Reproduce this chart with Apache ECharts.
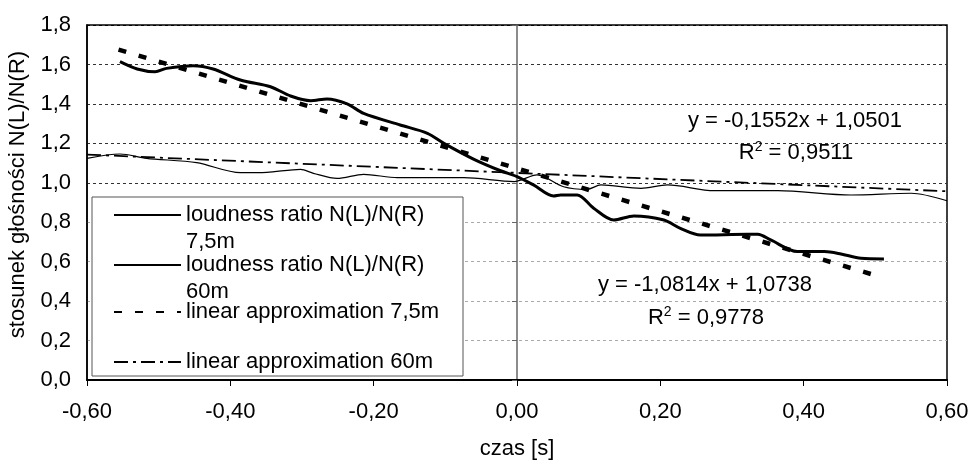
<!DOCTYPE html>
<html>
<head>
<meta charset="utf-8">
<script src="https://cdn.jsdelivr.net/npm/echarts@6/dist/echarts.min.js"></script>
<style>
  html, body { margin: 0; padding: 0; background: #fff; }
  #chart { width: 972px; height: 464px; }
</style>
</head>
<body>
<div id="chart"></div>
<script>
// values
var t75 = [-0.554, -0.530, -0.505, -0.489, -0.452, -0.424, -0.386, -0.344, -0.316, -0.288, -0.265, -0.237, -0.214, -0.163, -0.125, -0.102, -0.060, -0.023, 0.000, 0.023, 0.051, 0.061, 0.084, 0.107, 0.135, 0.163, 0.205, 0.228, 0.256, 0.322, 0.336, 0.354, 0.391, 0.429, 0.452, 0.480, 0.512];
var n75 = [1.614, 1.577, 1.563, 1.580, 1.594, 1.577, 1.521, 1.487, 1.440, 1.416, 1.425, 1.400, 1.352, 1.293, 1.251, 1.200, 1.119, 1.061, 1.031, 0.989, 0.933, 0.938, 0.938, 0.871, 0.811, 0.832, 0.811, 0.769, 0.735, 0.739, 0.739, 0.710, 0.651, 0.651, 0.639, 0.617, 0.614];

var t60 = [-0.600, -0.554, -0.517, -0.447, -0.386, -0.349, -0.302, -0.284, -0.251, -0.214, -0.167, -0.074, -0.004, 0.028, 0.065, 0.098, 0.117, 0.173, 0.210, 0.275, 0.364, 0.466, 0.550, 0.600];
var n60 = [1.124, 1.146, 1.124, 1.102, 1.051, 1.053, 1.068, 1.048, 1.022, 1.043, 1.026, 1.026, 1.006, 1.040, 0.980, 0.967, 0.989, 0.972, 0.989, 0.960, 0.960, 0.938, 0.947, 0.909];

// trend lines, end points
var trend75X = [-0.556, 0.496];
var trend75Y = [1.675, 0.535];
var trend60X = [-0.600, 0.600];
var trend60Y = [1.143, 0.957];

var xTickLabels = ['-0,60', '-0,40', '-0,20', '0,00', '0,20', '0,40', '0,60'];
var yTickLabels = ['0,0', '0,2', '0,4', '0,6', '0,8', '1,0', '1,2', '1,4', '1,6', '1,8'];

var font = "'Liberation Sans', Arial, sans-serif";

function pairs(xs, ys) {
  var out = [];
  for (var i = 0; i < xs.length; i++) out.push([xs[i], ys[i]]);
  return out;
}

var chart = echarts.init(document.getElementById('chart'));

// one legend per item so the two-line labels keep the line sample on the first line
function legendFor(name, text, top) {
  return {
    data: [name],
    left: 113,
    top: top,
    padding: 0,
    orient: 'vertical',
    itemWidth: 67,
    itemHeight: 14,
    selectedMode: false,
    formatter: text,
    itemStyle: { opacity: 0, borderWidth: 0 },
    textStyle: { fontFamily: font, fontSize: 22, color: '#000', lineHeight: 27 },
    z: 5
  };
}

var option = {
  animation: false,
  backgroundColor: '#fff',
  grid: {
    left: 87, right: 25, top: 25, bottom: 84,
    show: true, borderColor: '#000', borderWidth: 1.5,
    backgroundColor: 'transparent',
    outerBoundsMode: 'none'
  },
  legend: [
    legendFor('s75', '\nloudness ratio N(L)/N(R)\n7,5m', 174.5),
    legendFor('s60', '\nloudness ratio N(L)/N(R)\n60m', 224.5),
    legendFor('lin75', 'linear approximation 7,5m', 298.5),
    legendFor('lin60', 'linear approximation 60m', 348.5)
  ],
  xAxis: {
    type: 'value', min: -0.6, max: 0.6, interval: 0.2,
    name: 'czas [s]', nameLocation: 'middle', nameGap: 58, nameMoveOverlap: false,
    nameTextStyle: { fontFamily: font, fontSize: 22, color: '#000' },
    axisLine: { onZero: false, lineStyle: { color: '#000', width: 2 } },
    axisTick: { length: 6, lineStyle: { color: '#000', width: 1 } },
    axisLabel: {
      fontFamily: font, fontSize: 22, color: '#000', margin: 21,
      formatter: function (v) { return xTickLabels[Math.round((v + 0.6) / 0.2)]; }
    },
    splitLine: { show: false }
  },
  yAxis: [{
    type: 'value', min: 0, max: 1.8, interval: 0.2, position: 'left',
    name: 'stosunek głośności N(L)/N(R)', nameLocation: 'middle', nameGap: 58, nameMoveOverlap: false,
    nameTextStyle: { fontFamily: font, fontSize: 22, color: '#000', padding: [0, 0, 0, 16] },
    axisLine: { show: true, onZero: false, lineStyle: { color: '#000', width: 1.5 } },
    axisTick: { show: false },
    axisLabel: {
      fontFamily: font, fontSize: 22, color: '#000', margin: 16,
      formatter: function (v) { return yTickLabels[Math.round(v / 0.2)]; }
    },
    splitLine: {
      show: true,
      lineStyle: {
        type: [3, 3], width: 1,
        color: ['#000', '#aaa', '#aaa', '#aaa', '#aaa', '#333', '#333', '#333', '#333', '#000']
      }
    }
  }, {
    // value axis crossing at x = 0
    type: 'value', min: 0, max: 1.8, interval: 0.2, position: 'left',
    axisLine: { show: true, onZero: true, lineStyle: { color: '#666', width: 1.5 } },
    axisTick: { show: true, length: 5, lineStyle: { color: '#666', width: 1 } },
    axisLabel: { show: false },
    splitLine: { show: false }
  }],
  graphic: [{
    type: 'rect', z: 3,
    shape: { x: 92, y: 197, width: 371, height: 179 },
    style: { fill: '#fff', stroke: '#555', lineWidth: 1 }
  }, {
    type: 'text', z: 6, x: 795, y: 121,
    style: { text: 'y = -0,1552x + 1,0501', font: '22px ' + font, fill: '#000', align: 'center', verticalAlign: 'middle' }
  }, {
    type: 'text', z: 6, x: 796, y: 153,
    style: {
      text: '{r|R}{s|2}{r| = 0,9511}', align: 'center', verticalAlign: 'middle',
      rich: {
        r: { fontFamily: font, fontSize: 22, fill: '#000', lineHeight: 25 },
        s: { fontFamily: font, fontSize: 14, fill: '#000', lineHeight: 25, verticalAlign: 'top' }
      }
    }
  }, {
    type: 'text', z: 6, x: 705, y: 285,
    style: { text: 'y = -1,0814x + 1,0738', font: '22px ' + font, fill: '#000', align: 'center', verticalAlign: 'middle' }
  }, {
    type: 'text', z: 6, x: 706, y: 318,
    style: {
      text: '{r|R}{s|2}{r| = 0,9778}', align: 'center', verticalAlign: 'middle',
      rich: {
        r: { fontFamily: font, fontSize: 22, fill: '#000', lineHeight: 25 },
        s: { fontFamily: font, fontSize: 14, fill: '#000', lineHeight: 25, verticalAlign: 'top' }
      }
    }
  }],
  series: [{
    name: 's75', type: 'line', data: pairs(t75, n75), yAxisIndex: 0,
    symbol: 'none', smooth: 0.3, color: '#000',
    lineStyle: { color: '#000', width: 3 }
  }, {
    name: 's60', type: 'line', data: pairs(t60, n60), yAxisIndex: 0,
    symbol: 'none', smooth: 0.3, color: '#000',
    lineStyle: { color: '#000', width: 1.2 }
  }, {
    name: 'lin75', type: 'line', data: pairs(trend75X, trend75Y), yAxisIndex: 0,
    symbol: 'none', color: '#000',
    lineStyle: { color: '#000', width: 4.5, type: [8, 13] }
  }, {
    name: 'lin60', type: 'line', data: pairs(trend60X, trend60Y), yAxisIndex: 0,
    symbol: 'none', color: '#000',
    lineStyle: { color: '#000', width: 1.8, type: [14, 5, 3, 5] }
  }]
};

chart.setOption(option);
</script>
</body>
</html>
